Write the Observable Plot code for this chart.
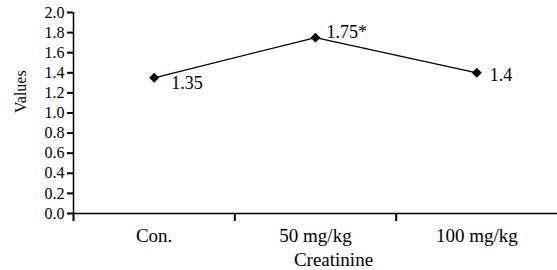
<!DOCTYPE html>
<html>
<head>
<meta charset="utf-8">
<script src="https://cdn.jsdelivr.net/npm/d3@7"></script>
<script src="https://cdn.jsdelivr.net/npm/@observablehq/plot@0.6"></script>
<style>
  html, body { margin: 0; padding: 0; background: #fff; }
  svg { display: block; }
</style>
</head>
<body>
<div id="chart"></div>
<script>
const categories = ["Con.", "50 mg/kg", "100 mg/kg"];
const values = [1.35, 1.75, 1.4];
const valueLabels = ["1.35", "1.75*", "1.4"];
const yTicks = [0, 0.2, 0.4, 0.6, 0.8, 1.0, 1.2, 1.4, 1.6, 1.8, 2.0];
const xTitle = "Creatinine";
const yTitle = "Values";

const data = categories.map((c, i) => ({cat: c, pos: i + 0.5, value: values[i], label: valueLabels[i]}));
const bounds = d3.range(categories.length); // category boundaries 0,1,2

const FF = "Liberation Serif";

const labelMark = (i, dx, dy) => Plot.text([data[i]], {
  x: "pos", y: "value", text: "label", textAnchor: "start", dx, dy,
  fontSize: 18, fill: "black", fontFamily: FF
});

const chart = Plot.plot({
  width: 557,
  height: 270,
  marginLeft: 73,
  marginRight: 0,
  marginTop: 12,
  marginBottom: 57,
  style: "font-family: 'Liberation Serif', serif; background: white; color: black;",
  x: {domain: [0, categories.length], axis: null},
  y: {domain: [0, 2], axis: null},
  marks: [
    Plot.axisY({ticks: yTicks, tickSize: 6, tickPadding: 3, tickFormat: d => d.toFixed(1), fontSize: 16, fontFamily: FF, label: null, strokeWidth: 2}),
    Plot.axisX({ticks: bounds, tickSize: 8, tickFormat: () => "", label: null, strokeWidth: 2}),
    Plot.ruleX([0], {y1: 0, y2: 2, stroke: "black", strokeWidth: 1.5}),
    Plot.ruleY([0], {stroke: "black", strokeWidth: 1.5}),
    Plot.text(data, {x: "pos", text: "cat", frameAnchor: "bottom", lineAnchor: "top", dy: 14.5, fontSize: 19, fontFamily: FF, fill: "black"}),
    Plot.text([xTitle], {frameAnchor: "bottom", lineAnchor: "top", dx: 18, dy: 38.5, fontSize: 19, fontFamily: FF, fill: "black"}),
    Plot.text([yTitle], {frameAnchor: "left", rotate: -90, dx: -53, fontSize: 16, fontFamily: FF, fill: "black"}),
    Plot.line(data, {x: "pos", y: "value", stroke: "black", strokeWidth: 1.3}),
    Plot.dot(data, {x: "pos", y: "value", symbol: "diamond2", r: 4.5, fill: "black", stroke: "none"}),
    labelMark(0, 17, 5),
    labelMark(1, 11, -5),
    labelMark(2, 13, 2)
  ]
});
document.getElementById("chart").append(chart);
</script>
</body>
</html>
